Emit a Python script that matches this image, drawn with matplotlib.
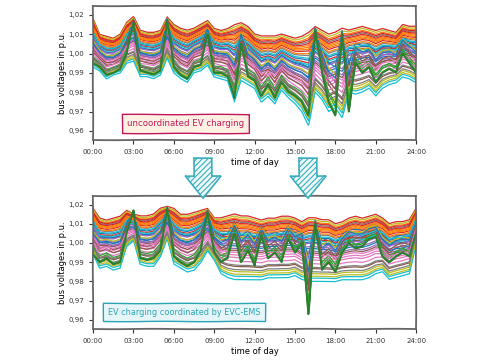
import matplotlib
matplotlib.use("Agg")
import matplotlib.pyplot as plt
from matplotlib.patches import Polygon
from matplotlib.ticker import FuncFormatter, MultipleLocator
import numpy as np

# time grid (half-hour steps over one day)
hours = [i * 0.5 for i in range(49)]

# ---- uncoordinated case: profiles ----
unc_top = [1.018, 1.010, 1.009, 1.008, 1.010, 1.016, 1.019, 1.012, 1.011, 1.011,
           1.012, 1.019, 1.015, 1.013, 1.012, 1.013, 1.015, 1.017, 1.013, 1.012,
           1.013, 1.015, 1.016, 1.014, 1.010, 1.009, 1.009, 1.009, 1.010, 1.009,
           1.008, 1.009, 1.011, 1.014, 1.012, 1.010, 1.011, 1.013, 1.012, 1.013,
           1.014, 1.013, 1.012, 1.013, 1.012, 1.011, 1.015, 1.014, 1.014]
unc_end_a = [0.993, 0.991, 0.987, 0.989, 0.990, 0.995, 0.996, 0.988, 0.988, 0.987,
             0.989, 0.998, 0.990, 0.987, 0.985, 0.990, 0.991, 0.994, 0.988, 0.987,
             0.986, 0.975, 0.986, 0.984, 0.982, 0.975, 0.978, 0.974, 0.981, 0.977,
             0.974, 0.970, 0.963, 0.980, 0.976, 0.970, 0.972, 0.967, 0.980, 0.979,
             0.980, 0.982, 0.978, 0.982, 0.984, 0.985, 0.988, 0.987, 0.985]
unc_end_b = [0.995, 0.993, 0.989, 0.990, 0.992, 1.000, 1.016, 0.991, 0.990, 0.989,
             0.991, 1.017, 0.993, 0.989, 0.987, 0.993, 0.994, 1.010, 0.990, 0.990,
             0.988, 0.977, 1.005, 0.988, 0.986, 0.978, 0.984, 0.977, 0.985, 0.980,
             0.978, 0.975, 0.968, 1.012, 0.990, 0.975, 0.968, 1.010, 0.970, 0.995,
             0.990, 0.993, 0.985, 0.990, 0.992, 0.990, 1.000, 0.995, 0.990]

# ---- coordinated case (EVC-EMS) ----
coo_top = [1.018, 1.013, 1.012, 1.013, 1.014, 1.017, 1.015, 1.014, 1.014, 1.015,
           1.018, 1.019, 1.018, 1.015, 1.015, 1.016, 1.017, 1.018, 1.013, 1.013,
           1.014, 1.015, 1.014, 1.014, 1.013, 1.012, 1.013, 1.013, 1.014, 1.014,
           1.013, 1.011, 1.013, 1.013, 1.012, 1.012, 1.010, 1.011, 1.013, 1.014,
           1.013, 1.014, 1.015, 1.013, 1.010, 1.011, 1.011, 1.012, 1.018]
coo_end_a = [0.994, 0.987, 0.988, 0.986, 0.987, 0.998, 1.001, 0.989, 0.988, 0.988,
             0.993, 1.002, 0.989, 0.987, 0.985, 0.986, 0.990, 0.996, 0.991, 0.984,
             0.982, 0.981, 0.981, 0.981, 0.981, 0.981, 0.982, 0.982, 0.982, 0.982,
             0.983, 0.981, 0.980, 0.980, 0.980, 0.980, 0.980, 0.981, 0.981, 0.981,
             0.981, 0.982, 0.984, 0.985, 0.981, 0.982, 0.983, 0.984, 1.000]
coo_end_b = [0.994, 0.990, 0.992, 0.989, 0.990, 1.005, 1.017, 0.992, 0.991, 0.992,
             0.996, 1.018, 0.993, 0.990, 0.988, 0.990, 0.996, 1.016, 0.995, 0.990,
             0.992, 1.005, 0.990, 0.996, 0.988, 1.004, 0.992, 0.995, 0.990, 1.002,
             0.995, 1.000, 0.963, 1.010, 0.986, 0.990, 0.985, 0.995, 1.000, 0.997,
             0.998, 1.002, 1.003, 0.993, 0.990, 0.993, 0.995, 0.993, 1.005]

# buses: feeder branch and relative electrical distance from substation
bus_branch = ['a', 'a', 'b', 'a', 'a', 'a', 'a', 'a', 'a', 'a',
              'a', 'a', 'b', 'a', 'a', 'b', 'a', 'a', 'a', 'a',
              'b', 'a', 'b', 'a', 'b', 'a', 'a', 'a', 'a', 'a',
              'a', 'a', 'b', 'a', 'a', 'b', 'a', 'a', 'b', 'a',
              'b', 'a', 'b', 'a']
bus_depth = [0.30, 0.06, 0.97, 0.00, 0.45, 0.55, 0.66, 0.10, 0.03, 1.00,
             0.38, 0.14, 0.90, 0.20, 0.52, 0.75, 0.72, 0.25, 0.88, 0.95,
             0.42, 0.18, 1.00, 0.33, 0.60, 0.80, 0.62, 0.85, 0.92, 0.35,
             0.48, 0.23, 0.85, 0.12, 0.40, 0.68, 0.58, 0.78, 0.50, 0.28,
             0.55, 0.16, 0.98, 0.08]

plt.xkcd(scale=0.2, length=80, randomness=1)
plt.rcParams['font.family'] = ['DejaVu Sans']
plt.rcParams['path.effects'] = []
plt.rcParams['axes.linewidth'] = 1.3
plt.rcParams['axes.edgecolor'] = '#666666'
plt.rcParams['hatch.color'] = '#9fdbe3'
plt.rcParams['hatch.linewidth'] = 0.8

fig = plt.figure(figsize=(4.85, 3.6), dpi=100)
ax1 = fig.add_axes([0.192, 0.611, 0.666, 0.372])
ax2 = fig.add_axes([0.192, 0.086, 0.666, 0.370])


def draw(ax, top, end_a, end_b, label, tcol, fcol, xpos, fs):
    top = np.array(top)
    ends = {'a': np.array(end_a), 'b': np.array(end_b)}
    for br, d in zip(bus_branch, bus_depth):
        v = top - d * (top - ends[br])
        ax.plot(hours, v, lw=0.9)
    ax.plot(hours, end_b, color='#2e7d32', lw=1.3)
    ax.set_xlim(0, 24)
    ax.set_ylim(0.9553, 1.0245)
    ax.xaxis.set_major_locator(MultipleLocator(3))
    ax.xaxis.set_major_formatter(FuncFormatter(lambda x, p: '%02d:00' % int(round(x))))
    ax.yaxis.set_major_locator(MultipleLocator(0.01))
    ax.yaxis.set_major_formatter(FuncFormatter(lambda y, p: ('%.2f' % y).replace('.', ',')))
    ax.tick_params(labelsize=5, length=3, width=0.8, colors='#333333')
    ax.set_xlabel('time of day', fontsize=6, labelpad=2)
    ax.set_ylabel('bus voltages in p.u.', fontsize=6, labelpad=1)
    ax.text(xpos, 0.125, label, transform=ax.transAxes,
            fontsize=fs, color=tcol, va='center', ha='left',
            bbox=dict(boxstyle='square,pad=0.55', fc=fcol, ec=tcol, lw=1))


draw(ax1, unc_top, unc_end_a, unc_end_b, 'uncoordinated EV charging',
     '#c2185b', '#fdf1e4', 0.105, 6.2)
draw(ax2, coo_top, coo_end_a, coo_end_b, 'EV charging coordinated by EVC-EMS',
     '#2aa5b6', '#e6f6f8', 0.045, 5.9)

# big arrows between the panels
W, H = 485.0, 360.0
for cx in [203, 308]:
    pts = [(cx - 9, 158), (cx + 9, 158), (cx + 9, 176), (cx + 18, 176), (cx, 198),
           (cx - 18, 176), (cx - 9, 176)]
    poly = Polygon([(x / W, 1 - y / H) for x, y in pts], closed=True,
                   transform=fig.transFigure, fc='#eef9fa', ec='#3aaebd',
                   lw=1.2, hatch='//////')
    fig.patches.append(poly)

fig.savefig('out.png', dpi=100)
